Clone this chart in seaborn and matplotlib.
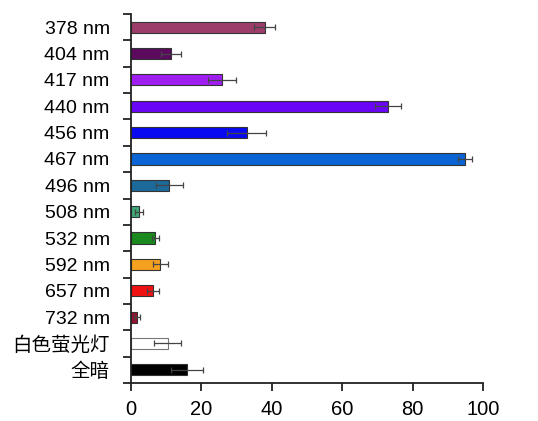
import numpy as np
import pandas as pd
import matplotlib
matplotlib.use("Agg")
import matplotlib.pyplot as plt
import seaborn as sns

categories = ["378 nm", "404 nm", "417 nm", "440 nm", "456 nm", "467 nm", "496 nm",
              "508 nm", "532 nm", "592 nm", "657 nm", "732 nm", "白色萤光灯", "全暗"]
values = [38.1, 11.5, 26.0, 73.0, 33.0, 95.0, 11.0, 2.5, 7.0, 8.5, 6.4, 1.9, 10.5, 16.0]
errors = [3.0, 2.8, 4.0, 3.6, 5.5, 2.0, 3.8, 1.1, 1.0, 2.0, 1.7, 0.8, 3.8, 4.5]
colors = ["#9B3C6A", "#5C0A5E", "#A11EF2", "#6A05F5", "#0A0AF2", "#0A64D4", "#1C6A9C",
          "#3DA877", "#1A8A1E", "#F5A01E", "#F01212", "#9A1030", "#FFFFFF", "#000000"]
xticks = [0, 20, 40, 60, 80, 100]

sns.set_style("white")
plt.rcParams['font.family'] = ['Liberation Sans', 'Noto Sans CJK SC', 'DejaVu Sans']
plt.rcParams['text.color'] = 'black'
plt.rcParams['xtick.color'] = 'black'
plt.rcParams['ytick.color'] = 'black'

df = pd.DataFrame({"cat": categories, "val": values})

fig = plt.figure(figsize=(5.38, 4.21), dpi=100)
ax = fig.add_axes([0.2426, 0.0903, 0.6552, 0.8764])

sns.barplot(data=df, x="val", y="cat", hue="cat", palette=colors, legend=False,
            orient="h", width=0.42, saturation=1, edgecolor="#333333", linewidth=0.8, ax=ax)
for p in ax.patches:
    if p.get_facecolor()[:3] == (1.0, 1.0, 1.0):
        p.set_edgecolor("#777777")

ypos = np.arange(len(categories))
ax.errorbar(values, ypos, xerr=errors, fmt="none", ecolor="#444444",
            elinewidth=0.9, capsize=2.5, capthick=0.9)

ax.set_xlim(0, 100)
ax.set_ylim(len(categories) - 0.5, -0.5)
ax.set_xticks(xticks)
ax.set_xticklabels([str(t) for t in xticks], fontsize=14.5, color="black")
ax.set_yticks(ypos)
ax.set_yticklabels(categories, fontsize=14, color="black")
ax.set_yticks(np.arange(len(categories) + 1) - 0.5, minor=True)
ax.tick_params(axis="y", which="major", length=0, pad=15)
ax.tick_params(axis="y", which="minor", length=6, width=1.3, color="#222222", direction="out", left=True)
ax.tick_params(axis="x", which="major", length=6, width=1.3, color="#222222", direction="out", bottom=True, pad=6)
ax.set_xlabel("")
ax.set_ylabel("")
for s in ["top", "right"]:
    ax.spines[s].set_visible(False)
for s in ["left", "bottom"]:
    ax.spines[s].set_color("#222222")
    ax.spines[s].set_linewidth(1.3)

fig.savefig("out.png", dpi=100)
